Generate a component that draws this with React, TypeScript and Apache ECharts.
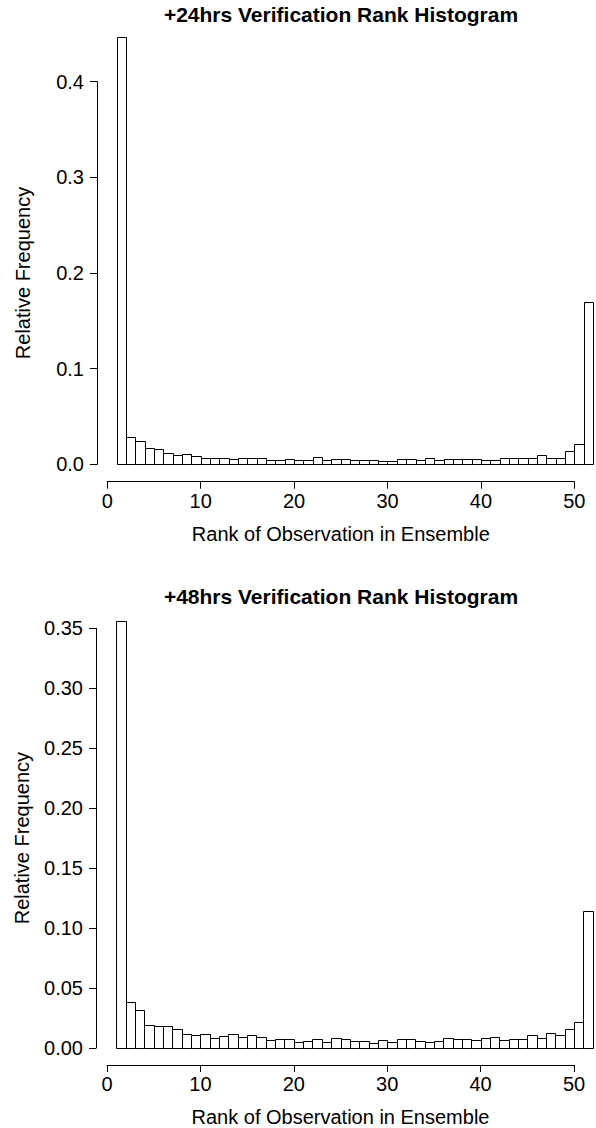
import React, { useEffect, useRef } from "react";
import * as echarts from "echarts";

const ranks = [
  1, 2, 3, 4, 5, 6, 7, 8, 9, 10, 11, 12, 13, 14, 15, 16, 17, 18, 19, 20, 21, 22, 23, 24, 25,
  26, 27, 28, 29, 30, 31, 32, 33, 34, 35, 36, 37, 38, 39, 40, 41, 42, 43, 44, 45, 46, 47, 48,
  49, 50, 51,
];

const freq24 = [
  0.447, 0.029, 0.024, 0.017, 0.0165, 0.0122, 0.0101, 0.0108, 0.0084, 0.007, 0.007, 0.007,
  0.0056, 0.007, 0.007, 0.0063, 0.0042, 0.0045, 0.0059, 0.0049, 0.0042, 0.008, 0.0049, 0.0059,
  0.0059, 0.0042, 0.0045, 0.0042, 0.0035, 0.0038, 0.0056, 0.0056, 0.0045, 0.0063, 0.0045,
  0.0059, 0.0056, 0.0052, 0.0056, 0.0049, 0.0049, 0.0063, 0.007, 0.007, 0.007, 0.0101, 0.007,
  0.007, 0.0139, 0.0209, 0.17,
];

const freq48 = [
  0.356, 0.0383, 0.032, 0.0194, 0.018, 0.018, 0.0158, 0.012, 0.011, 0.012, 0.0083, 0.0103,
  0.0117, 0.0092, 0.011, 0.0094, 0.0067, 0.0078, 0.0078, 0.005, 0.0058, 0.0075, 0.005, 0.0083,
  0.0075, 0.0058, 0.0056, 0.0044, 0.0067, 0.005, 0.0075, 0.0075, 0.0061, 0.0047, 0.0056,
  0.0083, 0.0078, 0.0078, 0.0069, 0.0086, 0.0094, 0.0069, 0.0075, 0.0072, 0.011, 0.0086,
  0.0128, 0.011, 0.0158, 0.0217, 0.114,
];

const xTickStep = 10;
const xMin = 0;
const xMax = 50;
const yMax24 = 0.4;
const yStep24 = 0.1;
const yMax48 = 0.35;
const yStep48 = 0.05;

const title24 = "+24hrs Verification Rank Histogram";
const title48 = "+48hrs Verification Rank Histogram";
const xName = "Rank of Observation in Ensemble";
const yName = "Relative Frequency";

const FONT = "'Liberation Sans', Arial, Helvetica, sans-serif";
const FS = 20;

function histData(freq: number[]) {
  return ranks.map((r, i) => [r, r + 1, freq[i]]);
}

function renderBar(params: any, api: any) {
  const start = api.value(0);
  const end = api.value(1);
  const v = api.value(2);
  const p0 = api.coord([start, v]);
  const p1 = api.coord([end, 0]);
  return {
    type: "rect",
    shape: {
      x: Math.round(p0[0]) + 0.5,
      y: Math.round(p0[1]) + 0.5,
      width: Math.round(p1[0]) - Math.round(p0[0]),
      height: Math.round(p1[1]) - Math.round(p0[1]),
    },
    style: { fill: "#ffffff", stroke: "#000000", lineWidth: 1 },
  };
}

function xAxisDef(gridIndex: number, offset: number) {
  return {
    type: "value",
    gridIndex,
    min: xMin,
    max: xMax,
    interval: xTickStep,
    offset,
    axisLine: { show: true, onZero: false, lineStyle: { color: "#000", width: 1 } },
    axisTick: { show: true, length: 7, lineStyle: { color: "#000", width: 1 } },
    axisLabel: { color: "#000", fontSize: FS, fontFamily: FONT, margin: 9 },
    splitLine: { show: false },
    name: xName,
    nameLocation: "middle",
    nameGap: 42,
    nameTextStyle: { color: "#000", fontSize: FS, fontFamily: FONT },
  };
}

function yAxisDef(gridIndex: number, max: number, step: number, decimals: number, offset: number) {
  return {
    type: "value",
    gridIndex,
    min: 0,
    max,
    interval: step,
    offset,
    axisLine: { show: true, onZero: false, lineStyle: { color: "#000", width: 1 } },
    axisTick: { show: true, length: 7, lineStyle: { color: "#000", width: 1 } },
    axisLabel: {
      color: "#000",
      fontSize: FS,
      fontFamily: FONT,
      margin: 13,
      formatter: (v: number) => v.toFixed(decimals),
    },
    splitLine: { show: false },
    name: yName,
    nameLocation: "middle",
    nameGap: 64,
    nameTextStyle: { color: "#000", fontSize: FS, fontFamily: FONT },
  };
}

export default function App() {
  const ref = useRef<HTMLDivElement>(null);

  useEffect(() => {
    if (!ref.current) return;
    const chart = echarts.init(ref.current, null, { renderer: "svg" });
    chart.setOption({
      animation: false,
      backgroundColor: "#ffffff",
      graphic: [
        {
          type: "text",
          x: 341,
          y: 14,
          style: {
            text: title24,
            textAlign: "center",
            textVerticalAlign: "middle",
            font: `bold 21px ${FONT}`,
            fill: "#000",
          },
        },
        {
          type: "text",
          x: 341,
          y: 596,
          style: {
            text: title48,
            textAlign: "center",
            textVerticalAlign: "middle",
            font: `bold 21px ${FONT}`,
            fill: "#000",
          },
        },
      ],
      grid: [
        { left: 107.3, top: 81.7, width: 467, height: 382.6, outerBoundsMode: "none", containLabel: false },
        { left: 107, top: 628.3, width: 467, height: 419.7, outerBoundsMode: "none", containLabel: false },
      ],
      xAxis: [xAxisDef(0, 17.4), xAxisDef(1, 17)],
      yAxis: [yAxisDef(0, yMax24, yStep24, 1, 10.3), yAxisDef(1, yMax48, yStep48, 2, 11)],
      series: [
        {
          type: "custom",
          xAxisIndex: 0,
          yAxisIndex: 0,
          clip: false,
          renderItem: renderBar,
          encode: { x: [0, 1], y: 2 },
          data: histData(freq24),
        },
        {
          type: "custom",
          xAxisIndex: 1,
          yAxisIndex: 1,
          clip: false,
          renderItem: renderBar,
          encode: { x: [0, 1], y: 2 },
          data: histData(freq48),
        },
      ],
    });
    return () => chart.dispose();
  }, []);

  return (
    <div
      ref={ref}
      style={{ position: "absolute", left: 0, top: 0, width: 596, height: 1128, background: "#fff" }}
    />
  );
}
